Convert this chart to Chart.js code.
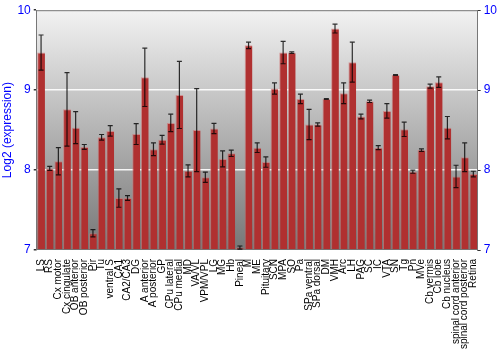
<!DOCTYPE html>
<html>
<head>
<meta charset="utf-8">
<script src="https://cdn.jsdelivr.net/npm/chart.js@4.4.0/dist/chart.umd.min.js"></script>
<style>
  html, body { margin: 0; padding: 0; background: #fff; }
  #wrap { width: 500px; height: 350px; }
</style>
</head>
<body>
<div id="wrap"><canvas id="myChart"></canvas></div>
<script>
// regions
const regions = ['LS', 'RS', 'Cx motor', 'Cx cingulate', 'OB anterior', 'OB posterior', 'Pir', 'Tu',
  'ventral S', 'CA1', 'CA2/CA3', 'DG', 'A anterior', 'A posterior', 'GP', 'CPu lateral', 'CPu medial',
  'MD', 'VA/VL', 'VPM/VPL', 'LG', 'MG', 'Hb', 'Pineal', 'M', 'ME', 'Pituitary', 'SCN', 'MPA', 'SO',
  'Pa', 'SPa ventral', 'SPa dorsal', 'DM', 'VMH', 'Arc', 'LH', 'PAG', 'SC', 'IC', 'VTA', 'SN', 'Tg',
  'Pn', 'MVe', 'Cb vermis', 'Cb lobe', 'Cb nucleus', 'spinal cord anterior', 'spinal cord posterior', 'Retina'];

// mean log2 expression
const expression = [9.47, 8.02, 8.11, 8.76, 8.53, 8.29, 7.21, 8.41,
  8.49, 7.65, 7.65, 8.45, 9.16, 8.26, 8.38, 8.59, 8.94,
  7.99, 8.50, 7.91, 8.52, 8.14, 8.21, 7.03, 9.56, 8.28, 8.10, 9.02, 9.47, 9.47,
  8.89, 8.57, 8.57, 8.89, 9.77, 8.96, 9.35, 8.67, 8.86, 8.28, 8.74, 9.19, 8.51,
  7.98, 8.25, 9.05, 9.10, 8.53, 7.92, 8.16, 7.95];

// error (+/-)
const errors = [0.22, 0.025, 0.17, 0.46, 0.2, 0.03, 0.045, 0.035,
  0.065, 0.115, 0.03, 0.13, 0.365, 0.08, 0.055, 0.11, 0.42,
  0.075, 0.52, 0.065, 0.065, 0.1, 0.04, 0.02, 0.04, 0.06, 0.065, 0.07, 0.14, 0.01,
  0.06, 0.19, 0.02, 0.005, 0.055, 0.13, 0.25, 0.03, 0.015, 0.025, 0.09, 0.005, 0.09,
  0.02, 0.015, 0.025, 0.065, 0.14, 0.14, 0.18, 0.035];

const yTicks = [7, 8, 9, 10];

const bgPlugin = {
  id: 'bg',
  beforeDraw(chart) {
    const { ctx, chartArea: a } = chart;
    const g = ctx.createLinearGradient(0, a.top, 0, a.bottom);
    g.addColorStop(0, '#f2f2f2');
    g.addColorStop(1, '#767676');
    ctx.save();
    ctx.fillStyle = g;
    ctx.fillRect(a.left, a.top, a.right - a.left, a.bottom - a.top);
    ctx.strokeStyle = '#777';
    ctx.lineWidth = 1;
    ctx.beginPath();
    ctx.moveTo(a.left, a.top + 0.5);
    ctx.lineTo(a.right, a.top + 0.5);
    ctx.stroke();
    ctx.restore();
  }
};

const errPlugin = {
  id: 'errbars',
  afterDatasetsDraw(chart) {
    const { ctx } = chart;
    const y = chart.scales.y;
    const meta = chart.getDatasetMeta(0);
    ctx.save();
    ctx.strokeStyle = 'rgba(0,0,0,0.8)';
    ctx.lineWidth = 1.2;
    meta.data.forEach((bar, i) => {
      const hi = y.getPixelForValue(expression[i] + errors[i]);
      const lo = y.getPixelForValue(expression[i] - errors[i]);
      const x = bar.x;
      ctx.beginPath();
      ctx.moveTo(x, hi); ctx.lineTo(x, lo);
      ctx.moveTo(x - 2.5, hi); ctx.lineTo(x + 2.5, hi);
      ctx.moveTo(x - 2.5, lo); ctx.lineTo(x + 2.5, lo);
      ctx.stroke();
    });
    ctx.restore();
  }
};

function barFill(context) {
  const el = context.element;
  const c = context.chart.ctx;
  if (!el || !el.width) return '#b03030';
  const x0 = el.x - el.width / 2;
  const g = c.createLinearGradient(x0, 0, x0 + el.width, 0);
  g.addColorStop(0, '#c85050');
  g.addColorStop(0.4, '#b83636');
  g.addColorStop(1, '#7e1616');
  return g;
}

const ctx = document.getElementById('myChart');
new Chart(ctx, {
  type: 'bar',
  data: {
    labels: regions,
    datasets: [{
      data: expression,
      backgroundColor: barFill,
      borderColor: 'rgba(210,110,110,0.6)',
      borderWidth: { left: 1, right: 0, top: 1, bottom: 0 },
      barPercentage: 0.9,
      categoryPercentage: 1.0,
      base: 7
    }]
  },
  plugins: [bgPlugin, errPlugin],
  options: {
    responsive: true,
    maintainAspectRatio: false,
    animation: false,
    layout: { padding: { top: 9, right: 0, left: 0, bottom: 0 } },
    plugins: {
      legend: { display: false },
      tooltip: { enabled: false }
    },
    scales: {
      x: {
        afterFit(axis) { axis.height = 100; },
        grid: { display: false },
        border: { display: false },
        ticks: {
          autoSkip: false,
          maxRotation: 90,
          minRotation: 90,
          padding: 1,
          color: '#000',
          font: { family: 'Liberation Sans', size: 10 }
        }
      },
      y: {
        min: 7, max: 10,
        afterBuildTicks(axis) { axis.ticks = yTicks.map(v => ({ value: v })); },
        grid: {
          color: c => (c.tick.value === 8 || c.tick.value === 9) ? 'rgba(255,255,255,0.9)' : 'rgba(0,0,0,0)',
          lineWidth: 1.5,
          tickLength: 3,
          tickColor: '#333'
        },
        border: { color: '#777' },
        title: {
          display: true,
          text: 'Log2 (expression)',
          color: '#0000ff',
          padding: 0,
          font: { family: 'Liberation Sans', size: 12 }
        },
        ticks: {
          color: '#0000ff',
          padding: 3,
          font: { family: 'Liberation Sans', size: 12 }
        }
      },
      y2: {
        position: 'right',
        min: 7, max: 10,
        afterBuildTicks(axis) { axis.ticks = yTicks.map(v => ({ value: v })); },
        grid: { drawOnChartArea: false, tickLength: 3, tickColor: '#333' },
        border: { color: '#777' },
        ticks: {
          color: '#0000ff',
          padding: 3,
          font: { family: 'Liberation Sans', size: 12 }
        }
      }
    }
  }
});
</script>
</body>
</html>
